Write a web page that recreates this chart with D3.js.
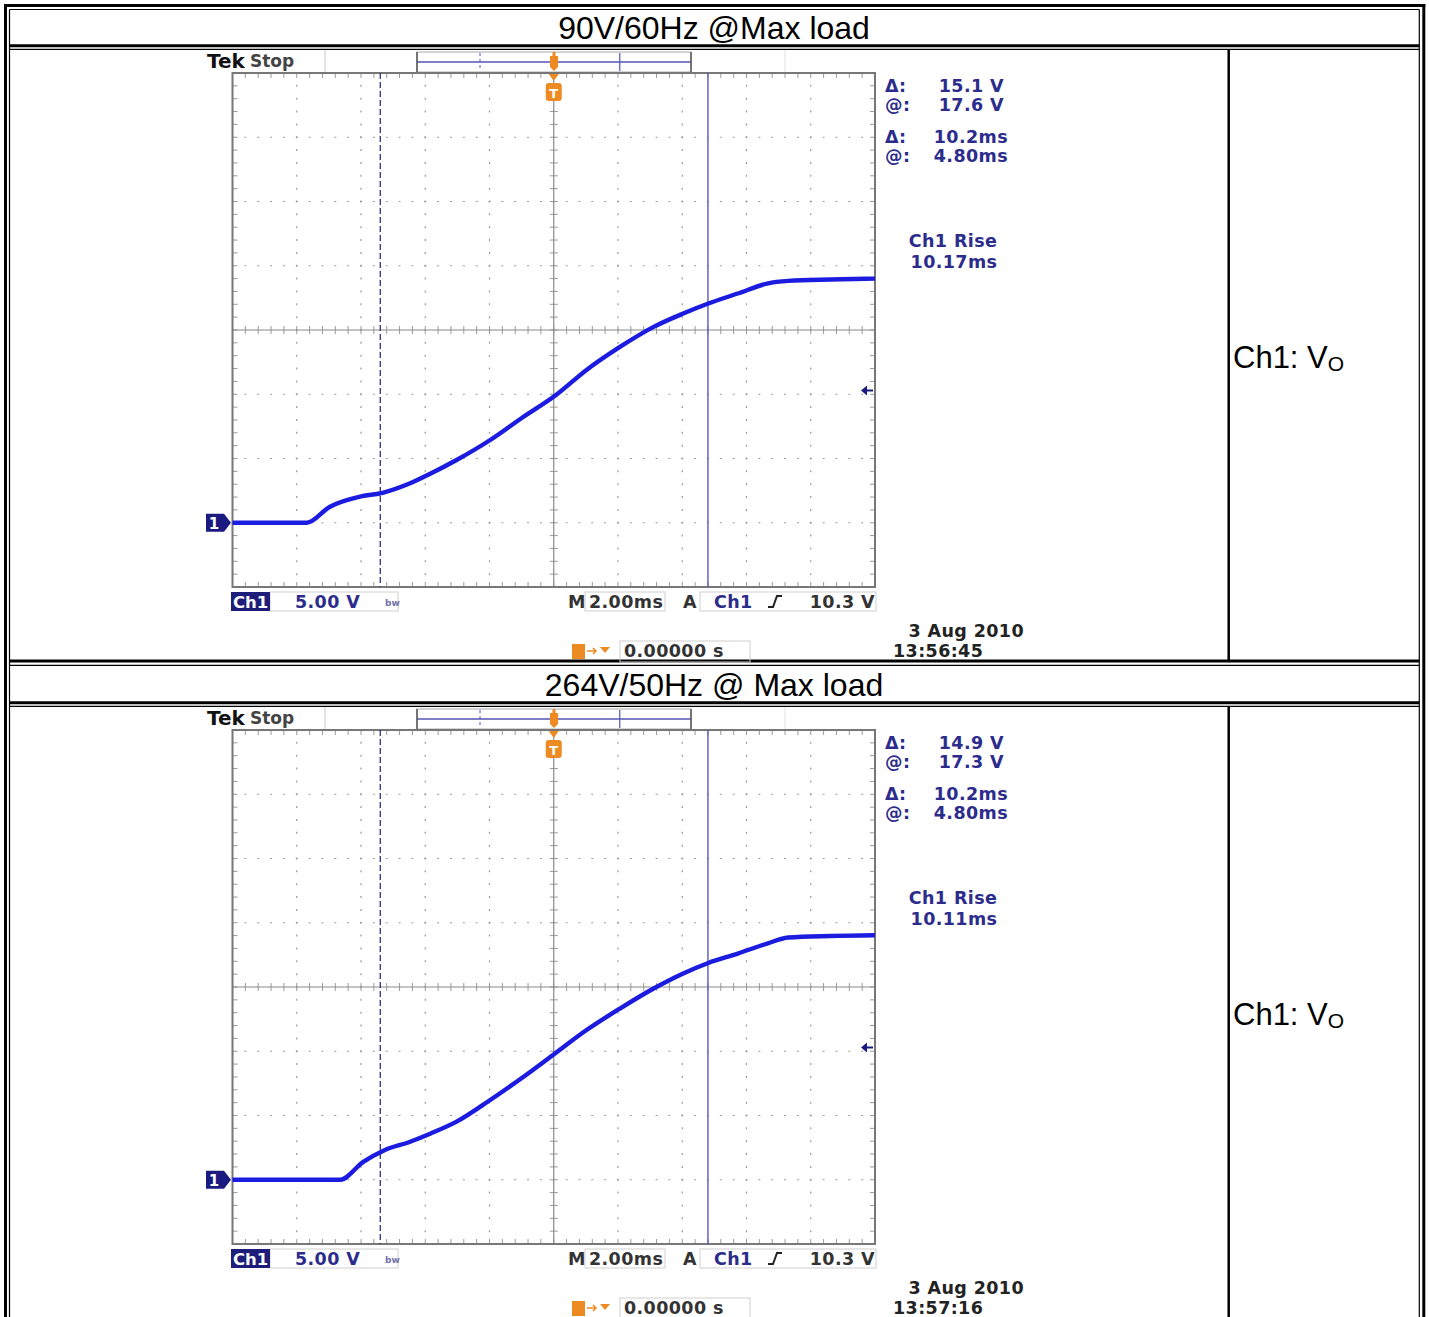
<!DOCTYPE html>
<html><head><meta charset="utf-8">
<script src="https://cdn.jsdelivr.net/npm/d3@7"></script>
<style>body{margin:0;background:#fff}svg{display:block}</style>
</head><body><svg id="c" width="1429" height="1317"></svg>
<script>
// ---------------- data ----------------
const titles = ["90V/60Hz @Max load", "264V/50Hz @ Max load"];
const channelLabel = "Ch1: V";
const channelSub = "O";
// Ch1 waveform, time in ms (trigger = 0), voltage in V
const time1 = [-10, -7.69, -6.98, -6.06, -5.30, -4.49, -3.83, -3.04, -1.99, -0.95, 0.06, 1.01, 2.06, 3.11, 4.03, 4.81, 5.73, 6.64, 7.30, 8.61, 10];
const volt1 = [0, 0, 1.23, 2.01, 2.35, 3.05, 3.83, 4.86, 6.42, 8.23, 9.92, 11.87, 13.68, 15.24, 16.28, 17.06, 17.84, 18.61, 18.82, 18.93, 19.0];
const time2 = [-10, -6.65, -5.93, -5.27, -4.49, -3.83, -3.04, -1.99, -0.95, 0.06, 1.01, 2.06, 3.11, 4.03, 4.81, 5.73, 6.64, 7.30, 8.61, 10];
const volt2 = [0, 0, 1.39, 2.30, 2.94, 3.60, 4.50, 6.19, 8.0, 9.87, 11.63, 13.32, 14.88, 16.05, 16.87, 17.60, 18.38, 18.85, 18.97, 19.03];
const deltaV = ["15.1 V", "14.9 V"];
const atV = ["17.6 V", "17.3 V"];
const deltaT = ["10.2ms", "10.2ms"];
const atT = ["4.80ms", "4.80ms"];
const riseTimes = ["10.17ms", "10.11ms"];
const dates = ["3 Aug 2010", "3 Aug 2010"];
const clocks = ["13:56:45", "13:57:16"];
const cursorAtMs = 4.80, cursorDeltaMs = 10.2;
const triggerLevelV = 10.3;
const voltsPerDiv = "5.00 V", timePerDiv = "2.00ms", trigPos = "0.00000 s";
const timeDomain = [-10, 10];   // 10 divisions x 2 ms
const voltDomain = [-5, 35];    // 8 divisions x 5 V

// ---------------- drawing ----------------
const svg = d3.select("#c");
const BLUE = "#2c2c8c", TRACE = "#1c1ce0", GRID = "#9a9a9a", ORANGE = "#ee8a22";
const tek = "'DejaVu Sans', sans-serif";

// table borders
const T = svg.append("g");
function hline(y, x0, x1, w) { T.append("line").attr("x1", x0).attr("x2", x1).attr("y1", y).attr("y2", y).attr("stroke", "#000").attr("stroke-width", w); }
function vline(x, y0, y1, w) { T.append("line").attr("x1", x).attr("x2", x).attr("y1", y0).attr("y2", y1).attr("stroke", "#000").attr("stroke-width", w); }
hline(5.5, 4, 1425.3, 3); hline(9.5, 9.5, 1419.3, 1.2);
vline(5.5, 4, 1317, 3); vline(9.5, 9.5, 1317, 1.2);
vline(1423.8, 4, 1317, 3); vline(1419.3, 9.5, 1317, 1.2);
[0, 657].forEach(dy => { hline(45.7 + dy, 9.5, 1419.3, 3); hline(49.4 + dy, 9.5, 1419.3, 1.2); });
hline(661, 9.5, 1419.3, 3); hline(665.3, 9.5, 1419.3, 1.2);
vline(1228.7, 49.4, 661, 2.5); vline(1228.7, 706.4, 1317, 2.5);

// titles and channel labels
titles.forEach((t, i) => {
  svg.append("text").attr("x", 714).attr("y", 39 + i * 657).attr("text-anchor", "middle")
    .attr("font-family", "'Liberation Sans', Arial, sans-serif").attr("font-size", 32).text(t);
  const l = svg.append("text").attr("x", 1233).attr("y", 368 + i * 657)
    .attr("font-family", "'Liberation Sans', Arial, sans-serif").attr("font-size", 31).text(channelLabel);
  l.append("tspan").attr("font-size", 21).attr("dy", 3).text(channelSub);
});

function scope(idx, times, volts) {
  const dy = idx * 657;
  const g = svg.append("g").attr("transform", `translate(0,${dy})`);
  const x = d3.scaleLinear().domain(timeDomain).range([232.5, 875]);
  const y = d3.scaleLinear().domain(voltDomain).range([587, 73]);
  const bar = d3.scaleLinear().domain(timeDomain).range([417, 691]);
  const majorT = d3.range(-10, 10.001, 2), minorT = d3.range(-10, 10.001, 0.4);
  const majorV = d3.range(-5, 35.001, 5), minorV = d3.range(-5, 35.001, 1);

  // header
  g.append("text").attr("x", 207).attr("y", 68).attr("font-family", tek).attr("font-weight", "bold").attr("font-size", 20).attr("fill", "#111").text("Tek");
  g.append("text").attr("x", 250).attr("y", 67).attr("font-family", tek).attr("font-weight", "bold").attr("font-size", 17).attr("fill", "#444").text("Stop");
  g.append("line").attr("x1", 325).attr("x2", 325).attr("y1", 50).attr("y2", 72).attr("stroke", "#c8c8c8");
  g.append("line").attr("x1", 785).attr("x2", 785).attr("y1", 50).attr("y2", 72).attr("stroke", "#e0e0e0");
  g.append("rect").attr("x", bar(-10)).attr("y", 52).attr("width", bar(10) - bar(-10)).attr("height", 20).attr("fill", "#fff").attr("stroke", "#aaa");
  g.append("line").attr("x1", bar(-10)).attr("x2", bar(10)).attr("y1", 62).attr("y2", 62).attr("stroke", "#5555b5").attr("stroke-width", 1.6);
  g.append("line").attr("x1", bar(cursorAtMs - cursorDeltaMs)).attr("x2", bar(cursorAtMs - cursorDeltaMs)).attr("y1", 53).attr("y2", 71).attr("stroke", "#5555b5").attr("stroke-dasharray", "3 3");
  g.append("line").attr("x1", bar(cursorAtMs)).attr("x2", bar(cursorAtMs)).attr("y1", 53).attr("y2", 71).attr("stroke", "#5555b5").attr("stroke-width", 1.2);
  [bar(-10), bar(10)].forEach(bx => g.append("line").attr("x1", bx).attr("x2", bx).attr("y1", 52).attr("y2", 72).attr("stroke", "#555").attr("stroke-width", 1.5));
  // orange trigger in record bar
  g.append("path").attr("d", `M${bar(0) - 4},56 h8 v11 l-4,4 l-4,-4 Z`).attr("fill", ORANGE);
  g.append("rect").attr("x", bar(0) - 1.5).attr("y", 52).attr("width", 3).attr("height", 4).attr("fill", ORANGE);

  // frame edge ticks
  const ticks = g.append("g").attr("stroke", GRID).attr("stroke-width", 1);
  minorT.forEach(t => {
    ticks.append("line").attr("x1", x(t)).attr("x2", x(t)).attr("y1", y(35)).attr("y2", y(35) + 5);
    ticks.append("line").attr("x1", x(t)).attr("x2", x(t)).attr("y1", y(-5)).attr("y2", y(-5) - 5);
    ticks.append("line").attr("x1", x(t)).attr("x2", x(t)).attr("y1", y(15) - 4).attr("y2", y(15) + 4);
  });
  minorV.forEach(v => {
    ticks.append("line").attr("y1", y(v)).attr("y2", y(v)).attr("x1", x(-10)).attr("x2", x(-10) + 5);
    ticks.append("line").attr("y1", y(v)).attr("y2", y(v)).attr("x1", x(10)).attr("x2", x(10) - 5);
    ticks.append("line").attr("y1", y(v)).attr("y2", y(v)).attr("x1", x(0) - 4).attr("x2", x(0) + 4);
  });
  // dotted grid
  const step = x(0.4) - x(0);
  majorT.filter(t => t !== -10 && t !== 10 && t !== 0).forEach(t => {
    g.append("line").attr("x1", x(t)).attr("x2", x(t)).attr("y1", y(35)).attr("y2", y(-5))
      .attr("stroke", GRID).attr("stroke-width", 1.2).attr("stroke-dasharray", `2 ${step - 2}`).attr("stroke-dashoffset", 1);
  });
  majorV.filter(v => v !== -5 && v !== 35 && v !== 15).forEach(v => {
    g.append("line").attr("y1", y(v)).attr("y2", y(v)).attr("x1", x(-10)).attr("x2", x(10))
      .attr("stroke", GRID).attr("stroke-width", 1.2).attr("stroke-dasharray", `2 ${step - 2}`).attr("stroke-dashoffset", 1);
  });
  // center axes
  g.append("line").attr("x1", x(0)).attr("x2", x(0)).attr("y1", y(35)).attr("y2", y(-5)).attr("stroke", "#8a8a8a").attr("stroke-width", 1.2);
  g.append("line").attr("y1", y(15)).attr("y2", y(15)).attr("x1", x(-10)).attr("x2", x(10)).attr("stroke", "#8a8a8a").attr("stroke-width", 1.2);
  // frame
  g.append("rect").attr("x", x(-10)).attr("y", y(35)).attr("width", x(10) - x(-10)).attr("height", y(-5) - y(35))
    .attr("fill", "none").attr("stroke", "#777").attr("stroke-width", 2);

  // time cursors
  const c1 = x(cursorAtMs - cursorDeltaMs), c2 = x(cursorAtMs);
  g.append("line").attr("x1", c1).attr("x2", c1).attr("y1", y(35)).attr("y2", y(-5)).attr("stroke", "#30307a").attr("stroke-width", 1.3).attr("stroke-dasharray", "6 3");
  g.append("line").attr("x1", c2).attr("x2", c2).attr("y1", y(35)).attr("y2", y(-5)).attr("stroke", "#5a5ab8").attr("stroke-width", 1.4);

  // waveform
  const pts = times.map((t, i) => [t, volts[i]]);
  const line = d3.line().x(d => x(d[0])).y(d => y(d[1])).curve(d3.curveMonotoneX);
  g.append("path").attr("d", line(pts)).attr("fill", "none").attr("stroke", TRACE).attr("stroke-width", 4.4).attr("stroke-linejoin", "round");

  // trigger position marker (top)
  g.append("path").attr("d", `M${x(0) - 5},${y(35) + 1} h10 l-5,7 Z`).attr("fill", ORANGE);
  g.append("rect").attr("x", x(0) - 8).attr("y", y(35) + 10).attr("width", 16).attr("height", 18).attr("rx", 3).attr("fill", ORANGE);
  g.append("text").attr("x", x(0)).attr("y", y(35) + 25).attr("text-anchor", "middle").attr("font-family", tek).attr("font-weight", "bold").attr("font-size", 13).attr("fill", "#fff").text("T");

  // ground marker
  const gy = y(0);
  g.append("path").attr("d", `M206,${gy - 9} h18 l7,9 l-7,9 h-18 Z`).attr("fill", "#1a1a80");
  g.append("text").attr("x", 214).attr("y", gy + 6).attr("text-anchor", "middle").attr("font-family", tek).attr("font-weight", "bold").attr("font-size", 15).attr("fill", "#fff").text("1");
  // trigger level marker
  const ty = y(triggerLevelV);
  g.append("path").attr("d", `M861,${ty} l6,-5 v4 h6 v2 h-6 v4 Z`).attr("fill", "#1a1a80");

  // readouts
  const rd = g.append("g").attr("font-family", tek).attr("font-weight", "bold").attr("font-size", 17.5).attr("letter-spacing", 0.4).attr("fill", BLUE);
  [["\u0394:", deltaV[idx], 92, 1004], ["@:", atV[idx], 111, 1004], ["\u0394:", deltaT[idx], 143, 1008], ["@:", atT[idx], 162, 1008]].forEach(r => {
    rd.append("text").attr("x", 885).attr("y", r[2]).text(r[0]);
    rd.append("text").attr("x", r[3]).attr("y", r[2]).attr("text-anchor", "end").text(r[1]);
  });
  rd.append("text").attr("x", 953).attr("y", 247).attr("text-anchor", "middle").text("Ch1 Rise");
  rd.append("text").attr("x", 954).attr("y", 268).attr("text-anchor", "middle").text(riseTimes[idx]);

  // bottom status line: boxes first, then text
  g.append("rect").attr("x", 270).attr("y", 592).attr("width", 128).attr("height", 19).attr("fill", "none").attr("stroke", "#cfcfcf");
  g.append("rect").attr("x", 231).attr("y", 592).attr("width", 39).attr("height", 19).attr("fill", "#1e1e7a");
  g.append("rect").attr("x", 585).attr("y", 592).attr("width", 80).attr("height", 19).attr("fill", "none").attr("stroke", "#cfcfcf");
  g.append("rect").attr("x", 700).attr("y", 592).attr("width", 176).attr("height", 19).attr("fill", "none").attr("stroke", "#cfcfcf");
  g.append("rect").attr("x", 620).attr("y", 641).attr("width", 130).attr("height", 21).attr("fill", "none").attr("stroke", "#cfcfcf");
  const st = g.append("g").attr("font-family", tek).attr("font-weight", "bold").attr("font-size", 17.5).attr("letter-spacing", 0.4);
  st.append("text").attr("x", 233).attr("y", 608).attr("fill", "#fff").attr("letter-spacing", 0).attr("font-size", 16.5).text("Ch1");
  st.append("text").attr("x", 295).attr("y", 608).attr("fill", BLUE).text(voltsPerDiv);
  st.append("text").attr("x", 385).attr("y", 606).attr("fill", "#7070a8").attr("font-size", 9).attr("letter-spacing", 0).text("bw");
  st.append("text").attr("x", 568).attr("y", 608).attr("fill", "#333").text("M");
  st.append("text").attr("x", 589).attr("y", 608).attr("fill", "#333").text(timePerDiv);
  st.append("text").attr("x", 683).attr("y", 608).attr("fill", "#333").text("A");
  st.append("text").attr("x", 714).attr("y", 608).attr("fill", BLUE).text("Ch1");
  g.append("path").attr("d", "M768,607 h5 l4,-11 h5").attr("fill", "none").attr("stroke", "#222").attr("stroke-width", 2);
  st.append("text").attr("x", 875).attr("y", 608).attr("text-anchor", "end").attr("fill", "#333").text(triggerLevelV.toFixed(1) + " V");
  st.append("text").attr("x", 1024).attr("y", 637).attr("text-anchor", "end").attr("fill", "#222").text(dates[idx]);
  st.append("text").attr("x", 893).attr("y", 657).attr("fill", "#222").text(clocks[idx]);
  g.append("rect").attr("x", 572).attr("y", 644).attr("width", 13).attr("height", 15).attr("fill", ORANGE);
  g.append("path").attr("d", "M587,651 h8 M593,648 l3,3 l-3,3").attr("fill", "none").attr("stroke", ORANGE).attr("stroke-width", 1.5);
  g.append("path").attr("d", "M600,647 h10 l-5,6 Z").attr("fill", ORANGE);
  st.append("text").attr("x", 624).attr("y", 657).attr("fill", "#333").text(trigPos);
}
scope(0, time1, volt1);
scope(1, time2, volt2);
</script></body></html>
